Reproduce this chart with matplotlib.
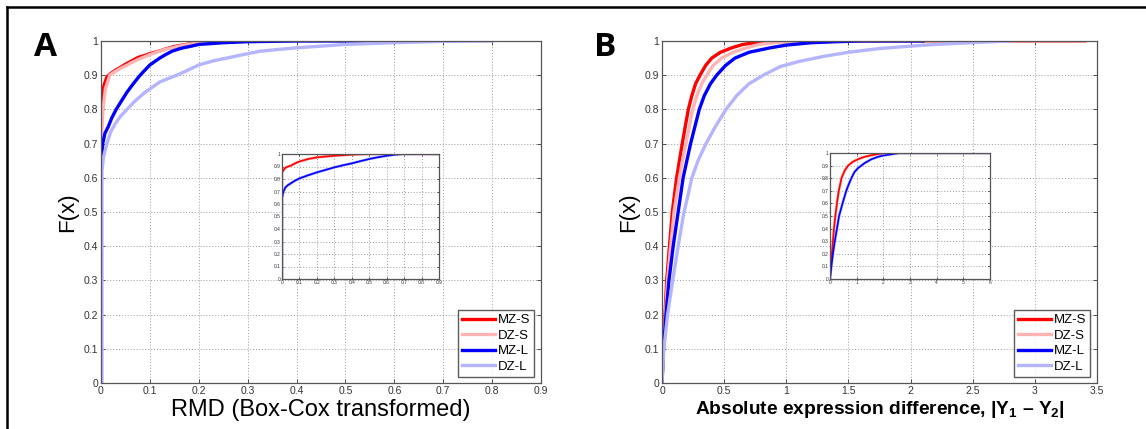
import matplotlib
matplotlib.use("Agg")
import matplotlib.pyplot as plt
from matplotlib.lines import Line2D

plt.rcParams['font.family'] = ['Liberation Sans', 'DejaVu Sans']
plt.rcParams['mathtext.fontset'] = 'custom'
plt.rcParams['mathtext.rm'] = 'Liberation Sans'
plt.rcParams['mathtext.bf'] = 'Liberation Sans:bold'

# ---- data ----
series_names = ['MZ-S', 'DZ-S', 'MZ-L', 'DZ-L']
series_colors = ['#ff0000', '#ffb4b4', '#0000ff', '#b4b4ff']

# panel A: RMD (Box-Cox transformed)
a_mzs_x = [0, 0.0005, 0.003, 0.006, 0.012, 0.02, 0.03, 0.04, 0.05, 0.063, 0.076, 0.09, 0.1,
           0.11, 0.12, 0.135, 0.15, 0.175, 0.2, 0.23, 0.25]
a_mzs_f = [0, 0.75, 0.84, 0.87, 0.895, 0.905, 0.915, 0.923, 0.932, 0.942, 0.952, 0.958, 0.963,
           0.967, 0.971, 0.978, 0.984, 0.99, 0.996, 1.0, 1.0]
a_dzs_x = [0, 0.0005, 0.004, 0.009, 0.018, 0.028, 0.04, 0.05, 0.06, 0.073, 0.086, 0.1, 0.115,
           0.13, 0.15, 0.17, 0.2, 0.24, 0.26]
a_dzs_f = [0, 0.70, 0.80, 0.86, 0.90, 0.91, 0.92, 0.927, 0.935, 0.944, 0.952, 0.96, 0.968,
           0.975, 0.982, 0.988, 0.995, 1.0, 1.0]
a_mzl_x = [0, 0.0005, 0.002, 0.0035, 0.008, 0.015, 0.022, 0.031, 0.042, 0.053, 0.066, 0.08, 0.09,
           0.1, 0.11, 0.12, 0.132, 0.145, 0.16, 0.168, 0.185, 0.2, 0.25, 0.3, 0.4, 0.61]
a_mzl_f = [0, 0.64, 0.67, 0.70, 0.73, 0.75, 0.775, 0.80, 0.825, 0.85, 0.875, 0.90, 0.915,
           0.93, 0.94, 0.95, 0.96, 0.97, 0.977, 0.98, 0.985, 0.99, 0.995, 0.998, 1.0, 1.0]
a_dzl_x = [0.002, 0.002, 0.005, 0.012, 0.02, 0.03, 0.04, 0.053, 0.07, 0.09, 0.105, 0.12, 0.137,
           0.155, 0.175, 0.2, 0.23, 0.257, 0.29, 0.325, 0.36, 0.4, 0.45, 0.5, 0.6, 0.7, 0.8]
a_dzl_f = [0, 0.62, 0.66, 0.70, 0.735, 0.76, 0.78, 0.80, 0.825, 0.85, 0.865, 0.88, 0.89,
           0.90, 0.913, 0.93, 0.942, 0.95, 0.96, 0.97, 0.975, 0.98, 0.985, 0.99, 0.995, 0.999, 1.0]

# inset A (S and L pairs nearly on top of each other)
ia_s_x = [0, 0.0005, 0.01, 0.02, 0.035, 0.05, 0.075, 0.1, 0.15, 0.2, 0.25, 0.3, 0.4, 0.5, 0.9]
ia_s_f = [0, 0.85, 0.875, 0.89, 0.9, 0.906, 0.925, 0.94, 0.96, 0.973, 0.98, 0.986, 0.995, 1.0, 1.0]
ia_l_x = [0, 0.0005, 0.008, 0.02, 0.035, 0.05, 0.075, 0.1, 0.15, 0.2, 0.25, 0.3, 0.35, 0.4,
          0.45, 0.5, 0.55, 0.6, 0.65, 0.7, 0.9]
ia_l_f = [0, 0.65, 0.7, 0.733, 0.752, 0.765, 0.787, 0.805, 0.83, 0.853, 0.873, 0.893, 0.91, 0.925,
          0.943, 0.96, 0.974, 0.986, 0.995, 1.0, 1.0]

# panel B: absolute expression difference
b_mzs_x = [0, 0.01, 0.02, 0.038, 0.06, 0.083, 0.1, 0.118, 0.14, 0.163, 0.187, 0.212, 0.24, 0.27,
           0.306, 0.35, 0.40, 0.47, 0.56, 0.65, 0.75, 0.85, 1.0, 3.4]
b_mzs_f = [0, 0.1, 0.17, 0.3, 0.4, 0.5, 0.55, 0.6, 0.65, 0.7, 0.75, 0.8, 0.84, 0.875,
           0.9, 0.928, 0.95, 0.967, 0.98, 0.99, 0.995, 0.998, 1.0, 1.0]
b_dzs_x = [0, 0.012, 0.025, 0.045, 0.07, 0.097, 0.118, 0.14, 0.165, 0.193, 0.22, 0.247, 0.28, 0.32,
           0.36, 0.41, 0.48, 0.57, 0.68, 0.78, 0.9, 1.05, 1.2, 3.4]
b_dzs_f = [0, 0.1, 0.18, 0.3, 0.4, 0.5, 0.55, 0.6, 0.65, 0.7, 0.75, 0.8, 0.84, 0.875,
           0.9, 0.928, 0.95, 0.967, 0.98, 0.99, 0.995, 0.998, 1.0, 1.0]
b_mzl_x = [0, 0.012, 0.03, 0.056, 0.09, 0.13, 0.15, 0.17, 0.2, 0.23, 0.265, 0.30, 0.34, 0.39,
           0.44, 0.51, 0.587, 0.7, 0.87, 1.0, 1.2, 1.4, 1.6, 2.1]
b_mzl_f = [0, 0.1, 0.19, 0.3, 0.4, 0.5, 0.55, 0.6, 0.65, 0.7, 0.75, 0.8, 0.84, 0.875,
           0.9, 0.928, 0.95, 0.967, 0.98, 0.988, 0.995, 0.998, 1.0, 1.0]
b_dzl_x = [0, 0.015, 0.045, 0.086, 0.13, 0.177, 0.21, 0.24, 0.29, 0.354, 0.43, 0.515, 0.6, 0.7,
           0.815, 0.95, 1.1, 1.3, 1.5, 1.75, 2.0, 2.2, 2.6, 2.8]
b_dzl_f = [0, 0.1, 0.2, 0.3, 0.4, 0.5, 0.55, 0.6, 0.65, 0.7, 0.75, 0.8, 0.84, 0.875,
           0.9, 0.925, 0.94, 0.955, 0.967, 0.978, 0.985, 0.99, 0.997, 1.0]

# inset B
ib_s_x = [0, 0.05, 0.11, 0.15, 0.2, 0.26, 0.33, 0.38, 0.43, 0.55, 0.68, 0.85, 1.05, 1.25, 1.5,
          1.75, 2.05, 6]
ib_s_f = [0, 0.15, 0.3, 0.4, 0.5, 0.6, 0.7, 0.75, 0.8, 0.86, 0.9, 0.93, 0.95, 0.967, 0.98,
          0.99, 1.0, 1.0]
ib_l_x = [0, 0.05, 0.11, 0.18, 0.26, 0.34, 0.47, 0.61, 0.7, 0.8, 0.92, 1.05, 1.3, 1.55, 1.8,
          2.0, 2.3, 2.6, 6]
ib_l_f = [0, 0.1, 0.2, 0.3, 0.4, 0.5, 0.6, 0.7, 0.75, 0.8, 0.85, 0.88, 0.92, 0.95, 0.97,
          0.98, 0.99, 1.0, 1.0]

a_xticks = [0, 0.1, 0.2, 0.3, 0.4, 0.5, 0.6, 0.7, 0.8, 0.9]
b_xticks = [0, 0.5, 1, 1.5, 2, 2.5, 3, 3.5]
ib_xticks = [0, 1, 2, 3, 4, 5, 6]
y_ticks = [0, 0.1, 0.2, 0.3, 0.4, 0.5, 0.6, 0.7, 0.8, 0.9, 1]


def fmt(v):
    return '%g' % v


def style_axes(ax, xticks, xmax, size):
    ax.set_xlim(0, xmax)
    ax.set_ylim(0, 1)
    ax.set_xticks(xticks)
    ax.set_xticklabels([fmt(t) for t in xticks])
    ax.set_yticks(y_ticks)
    ax.set_yticklabels([fmt(t) for t in y_ticks])
    ax.grid(True, color='#9a9a9a', linestyle=(0, (1, 2)), linewidth=0.7)
    ax.tick_params(direction='in', top=True, right=True, length=3 if size > 5 else 1.5,
                   width=0.6, labelsize=size, colors='#333333', pad=2 if size > 5 else 1)
    for sp in ax.spines.values():
        sp.set_color('#555555')
        sp.set_linewidth(0.9)


def add_legend(ax):
    ax.legend(loc='lower right', bbox_to_anchor=(0.984, 0.018), fontsize=9.5, frameon=True,
              fancybox=False, edgecolor='#333333', handlelength=2.5, handletextpad=0.2,
              borderpad=0.3, labelspacing=0.25, borderaxespad=0)


fig = plt.figure(figsize=(11.46, 4.29), dpi=100)

# outer frame
fig.add_artist(Line2D([7 / 1146, 1.0], [1 - 7 / 429, 1 - 7 / 429], color='black', lw=1.8))
fig.add_artist(Line2D([7 / 1146, 7 / 1146], [0, 1 - 7 / 429], color='black', lw=1.8))

# ---- panel A ----
axA = fig.add_axes([101 / 1146, 46 / 429, 440 / 1146, 342 / 429])
a_data = [(a_mzs_x, a_mzs_f), (a_dzs_x, a_dzs_f), (a_mzl_x, a_mzl_f), (a_dzl_x, a_dzl_f)]
for (xs, fs), name, col in zip(a_data, series_names, series_colors):
    axA.plot(xs, fs, color=col, lw=2.4, label=name)
style_axes(axA, a_xticks, 0.9, 7.5)
axA.set_xlabel('RMD (Box-Cox transformed)', fontsize=17, labelpad=2)
axA.set_ylabel('F(x)', fontsize=16, labelpad=4)
add_legend(axA)
fig.text(45 / 1146, 1 - 48 / 429, 'A', fontsize=24, fontweight='bold',
         ha='center', va='center', family=['Open Sans', 'DejaVu Sans'])

insA = fig.add_axes([282 / 1146, 150 / 429, 157 / 1146, 125 / 429])
ia_data = [(ia_s_x, ia_s_f), (ia_s_x, ia_s_f), (ia_l_x, ia_l_f), (ia_l_x, ia_l_f)]
for idx in [1, 3, 0, 2]:
    xs, fs = ia_data[idx]
    insA.plot(xs, fs, color=series_colors[idx], lw=2.0 if idx in (1, 3) else 1.2)
style_axes(insA, a_xticks, 0.9, 3.5)

# ---- panel B ----
axB = fig.add_axes([662 / 1146, 46 / 429, 435 / 1146, 342 / 429])
b_data = [(b_mzs_x, b_mzs_f), (b_dzs_x, b_dzs_f), (b_mzl_x, b_mzl_f), (b_dzl_x, b_dzl_f)]
for (xs, fs), name, col in zip(b_data, series_names, series_colors):
    axB.plot(xs, fs, color=col, lw=2.4, label=name)
style_axes(axB, b_xticks, 3.5, 7.5)
axB.set_xlabel(r'Absolute expression difference, |Y$_\mathbf{1}$ – Y$_\mathbf{2}$|',
               fontsize=13.8, fontweight='bold', labelpad=2)
axB.set_ylabel('F(x)', fontsize=16, labelpad=4)
add_legend(axB)
fig.text(605 / 1146, 1 - 48 / 429, 'B', fontsize=24, fontweight='bold',
         ha='center', va='center', family=['Open Sans', 'DejaVu Sans'])

insB = fig.add_axes([830 / 1146, 150 / 429, 160 / 1146, 126 / 429])
ib_data = [(ib_s_x, ib_s_f), (ib_s_x, ib_s_f), (ib_l_x, ib_l_f), (ib_l_x, ib_l_f)]
for idx in [1, 3, 0, 2]:
    xs, fs = ib_data[idx]
    insB.plot(xs, fs, color=series_colors[idx], lw=2.0 if idx in (1, 3) else 1.2)
style_axes(insB, ib_xticks, 6, 3.5)

fig.savefig('out.png', dpi=100)
